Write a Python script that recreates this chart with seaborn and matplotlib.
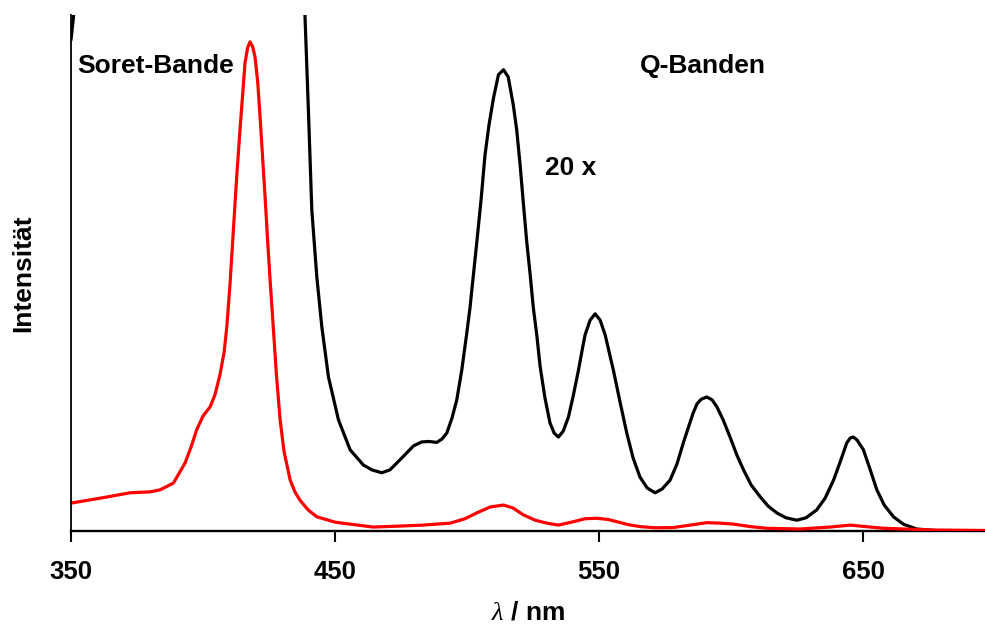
import numpy as np
import pandas as pd
import matplotlib
matplotlib.use("Agg")
import matplotlib.pyplot as plt
import seaborn as sns

sns.set_style("ticks")
plt.rcParams["font.family"] = ["Liberation Sans", "DejaVu Sans"]
plt.rcParams["font.weight"] = "bold"
plt.rcParams["text.color"] = "black"
plt.rcParams["axes.labelcolor"] = "black"
plt.rcParams["axes.edgecolor"] = "black"
plt.rcParams["xtick.color"] = "black"
plt.rcParams["mathtext.fontset"] = "custom"
plt.rcParams["mathtext.it"] = "Liberation Serif:style=italic:weight=normal"

# absorption spectrum (red)
wl_red = [350.0, 361.0, 372.3, 379.9, 383.7, 388.8, 393.2, 395.5, 397.6, 400.0,
          402.7, 404.5, 406.4, 408.0, 409.0, 410.2, 411.5, 412.8, 414.0, 415.0,
          415.9, 416.9, 417.8, 418.8, 419.7, 420.7, 421.6, 422.5, 423.5, 424.4,
          425.4, 426.6, 427.8, 429.2, 430.7, 433.0, 434.8, 436.7, 439.8, 443.1,
          450.0, 464.4, 474.6, 483.3, 493.6, 499.2, 503.7, 508.7, 513.8, 517.4,
          521.3, 525.8, 530.2, 534.6, 540.3, 544.7, 549.1, 553.4, 556.7, 561.0,
          565.5, 571.2, 578.1, 584.5, 590.8, 595.8, 600.9, 607.2, 613.5, 626.1,
          637.5, 645.1, 650.8, 657.7, 676.6, 696.2]
int_red = [5.7, 6.7, 7.8, 8.0, 8.4, 9.8, 13.9, 17.2, 20.7, 23.5,
           25.4, 27.8, 31.9, 36.6, 41.7, 50.3, 61.6, 72.8, 82.0, 89.2,
           95.7, 98.8, 100.0, 99.0, 96.9, 91.8, 84.7, 76.9, 68.3, 59.9,
           51.3, 41.7, 31.9, 22.7, 16.2, 10.4, 8.0, 6.3, 4.3, 2.9,
           1.8, 0.8, 1.0, 1.2, 1.6, 2.5, 3.7, 4.9, 5.3, 4.7,
           3.3, 2.2, 1.6, 1.2, 1.9, 2.5, 2.6, 2.35, 1.9, 1.3,
           0.9, 0.65, 0.7, 1.2, 1.7, 1.6, 1.4, 0.9, 0.55, 0.4,
           0.8, 1.2, 0.9, 0.55, 0.2, 0.1]

# same spectrum magnified 20 x (black); below 438 nm it runs off the top
wl_q = [350.0, 351.5, 360.0, 400.0, 418.0, 432.0, 436.0, 438.6, 439.9, 441.2,
        443.1, 445.0, 447.5, 451.3, 455.7, 460.7, 463.9, 467.7, 470.8, 473.4,
        476.5, 479.7, 482.8, 485.6, 488.5, 490.5, 492.3, 494.3, 496.1, 498.0,
        499.9, 501.1, 503.7, 505.3, 506.8, 508.3, 510.0, 511.9, 513.8, 515.6,
        517.5, 518.8, 520.1, 521.3, 522.6, 523.9, 525.1, 526.4, 527.7, 529.5,
        531.4, 533.0, 534.6, 536.4, 538.4, 540.2, 542.2, 543.8, 544.7, 546.6,
        548.5, 550.4, 552.3, 553.8, 555.4, 558.0, 560.5, 562.9, 565.5, 568.2,
        571.2, 573.9, 576.9, 579.5, 581.9, 584.5, 585.7, 587.1, 588.6, 590.8,
        592.8, 594.6, 597.0, 599.6, 602.2, 604.7, 607.6, 611.0, 614.0, 617.3,
        620.8, 624.9, 628.4, 632.4, 635.6, 638.8, 641.3, 643.8, 645.1, 646.3,
        647.7, 650.1, 652.7, 655.2, 658.0, 661.5, 665.2, 670.3, 679.2, 696.2]
int_q = [100.4, 108.0, 130.0, 400.0, 2000.0, 250.0, 150.0, 105.5, 86.1, 65.6,
         51.9, 41.7, 31.5, 22.7, 16.6, 13.5, 12.5, 11.9, 12.5, 13.9,
         15.6, 17.4, 18.2, 18.3, 18.1, 18.8, 20.0, 23.1, 26.8, 32.9,
         40.5, 45.6, 59.1, 67.7, 76.9, 83.0, 88.5, 93.3, 94.3, 92.8,
         87.1, 82.0, 74.8, 67.1, 59.1, 52.4, 45.6, 40.1, 33.5, 27.2,
         22.1, 20.0, 19.2, 20.4, 23.3, 27.6, 32.9, 37.6, 40.1, 43.1,
         44.4, 43.1, 40.1, 36.6, 32.9, 26.2, 20.0, 14.9, 11.0, 8.8,
         7.8, 8.6, 10.4, 13.7, 18.0, 22.3, 24.2, 26.0, 26.9, 27.4,
         26.8, 25.4, 22.7, 19.2, 15.5, 12.5, 9.4, 7.0, 5.1, 3.7,
         2.7, 2.2, 2.7, 4.3, 6.7, 10.4, 14.1, 18.0, 19.0, 19.2,
         18.6, 16.6, 12.5, 8.4, 5.3, 2.9, 1.4, 0.4, 0.0, 0.0]

xticks = [350, 450, 550, 650]

red = pd.DataFrame({"wl": wl_red, "I": int_red})
q = pd.DataFrame({"wl": wl_q, "I": int_q})

fig = plt.figure(figsize=(9.85, 6.28), dpi=100)
ax = fig.add_axes([0.0721, 0.1545, 0.928, 0.8217])

sns.lineplot(data=q, x="wl", y="I", sort=False, color="black", lw=2.3,
             solid_joinstyle="round", ax=ax)
sns.lineplot(data=red, x="wl", y="I", sort=False, color="#ff0000", lw=2.3,
             solid_joinstyle="round", ax=ax)

ax.set_xlim(350, 696.2)
ax.set_ylim(0, 105.5)
ax.set_xticks(xticks)
ax.set_yticks([])
ax.tick_params(axis="x", direction="out", length=8, width=1.5, pad=13,
               labelsize=18.5)
for lab in ax.get_xticklabels():
    lab.set_fontweight("bold")

sns.despine(ax=ax)
ax.spines["bottom"].set_linewidth(1.7)
ax.spines["left"].set_linewidth(1.3)
ax.spines["bottom"].set_zorder(1)

ax.set_xlabel(r"$\mathit{\lambda}$ / nm", fontsize=19, fontweight="bold", labelpad=12)
ax.set_ylabel("Intensität", fontsize=19, fontweight="bold", labelpad=26)

ax.text(352.3, 95.1, "Soret-Bande", fontsize=19, fontweight="bold", va="center")
ax.text(565.5, 95.1, "Q-Banden", fontsize=19, fontweight="bold", va="center")
ax.text(529.5, 74.2, "20 x", fontsize=19, fontweight="bold", va="center")

fig.savefig("out.png", dpi=100)
